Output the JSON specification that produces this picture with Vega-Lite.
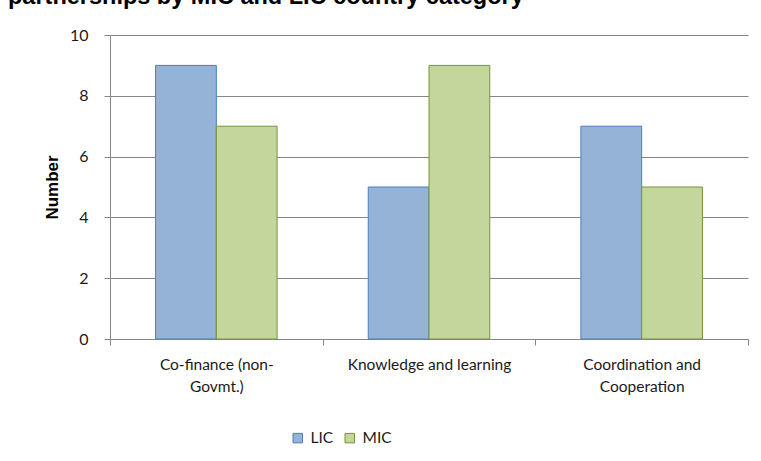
{
  "$schema": "https://vega.github.io/schema/vega-lite/v6.json",
  "width": 638,
  "height": 304,
  "padding": {"left": 110, "top": 35, "right": 13, "bottom": 122},
  "autosize": {"type": "none"},
  "background": "white",
  "title": {
    "text": "partnerships by MIC and LIC country category",
    "anchor": "start",
    "frame": "group",
    "font": "Liberation Sans",
    "fontSize": 23.5,
    "fontWeight": "bold",
    "color": "black",
    "dx": -102,
    "offset": 19
  },
  "data": {
    "values": [
      {"category": "Co-finance (non-Govmt.)", "group": "LIC", "value": 9},
      {"category": "Co-finance (non-Govmt.)", "group": "MIC", "value": 7},
      {"category": "Knowledge and learning", "group": "LIC", "value": 5},
      {"category": "Knowledge and learning", "group": "MIC", "value": 9},
      {"category": "Coordination and Cooperation", "group": "LIC", "value": 7},
      {"category": "Coordination and Cooperation", "group": "MIC", "value": 5}
    ]
  },
  "mark": {"type": "bar", "strokeWidth": 1},
  "encoding": {
    "x": {
      "field": "category",
      "type": "nominal",
      "sort": null,
      "scale": {"paddingInner": 0, "paddingOuter": 0},
      "axis": {
        "title": null,
        "labelAngle": 0,
        "tickBand": "extent",
        "labelFont": "Lato",
        "labelFontSize": 15.5,
        "labelColor": "#1a1a1a",
        "labelPadding": 12,
        "labelLineHeight": 22,
        "labelExpr": "datum.value == 'Co-finance (non-Govmt.)' ? ['Co-finance (non-', 'Govmt.)'] : datum.value == 'Coordination and Cooperation' ? ['Coordination and', 'Cooperation'] : datum.value",
        "domainColor": "#868686",
        "tickColor": "#868686",
        "tickSize": 6,
        "grid": false
      }
    },
    "xOffset": {
      "field": "group",
      "type": "nominal",
      "scale": {"paddingInner": 0, "paddingOuter": 0.75}
    },
    "y": {
      "field": "value",
      "type": "quantitative",
      "scale": {"domain": [0, 10]},
      "axis": {
        "title": "Number",
        "titleFont": "Liberation Sans",
        "titleFontSize": 17,
        "titleFontWeight": "bold",
        "titleColor": "black",
        "titlePadding": 8,
        "values": [0, 2, 4, 6, 8, 10],
        "labelFont": "Lato",
        "labelFontSize": 16,
        "labelColor": "#1a1a1a",
        "labelPadding": 16,
        "domainColor": "#868686",
        "tickColor": "#868686",
        "tickSize": 6,
        "gridColor": "#868686",
        "gridWidth": 1
      }
    },
    "color": {
      "field": "group",
      "type": "nominal",
      "scale": {"domain": ["LIC", "MIC"], "range": ["#95B3D7", "#C3D69B"]},
      "legend": {
        "title": null,
        "orient": "none",
        "legendX": 180,
        "legendY": 395,
        "direction": "horizontal",
        "symbolType": "square",
        "symbolSize": 90,
        "symbolStrokeWidth": 1,
        "labelFont": "Lato",
        "labelFontSize": 15.5,
        "labelColor": "#1a1a1a",
        "columnPadding": 8,
        "labelOffset": 5
      }
    },
    "stroke": {
      "field": "group",
      "type": "nominal",
      "scale": {"domain": ["LIC", "MIC"], "range": ["#4A7EBB", "#77933C"]},
      "legend": null
    }
  },
  "config": {
    "view": {"stroke": null}
  }
}
